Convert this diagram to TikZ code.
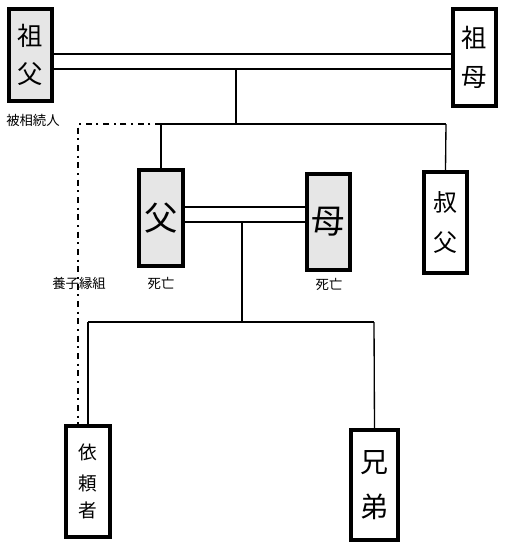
\documentclass[tikz,border=0pt]{standalone}
\usepackage{fontspec}
\setmainfont{Noto Sans CJK JP}
\definecolor{boxgray}{HTML}{E6E6E6}
\tikzset{
  person/.style={draw, line width=3pt, inner sep=0pt, align=center},
  dead/.style={person, fill=boxgray},
  link/.style={line width=1pt},
  adopt/.style={line width=1.5pt, dash pattern=on 4.5pt off 3.5pt on 1.5pt off 3.5pt},
  note/.style={font=\fontsize{10pt}{12pt}\selectfont, inner sep=0pt}
}
\begin{document}
\begin{tikzpicture}[x=0.75pt,y=-0.75pt]
\useasboundingbox (0,0) rectangle (507,553);
% persons
\node[dead, minimum width=32.25pt, minimum height=69pt, font=\fontsize{19pt}{19pt}\selectfont] (gf) at (30.5,55) {祖\\[9pt]父};
\node[person, minimum width=32.25pt, minimum height=72.75pt, font=\fontsize{19pt}{19pt}\selectfont] (gm) at (474.5,57.5) {祖\\[10pt]母};
\node[dead, minimum width=33pt, minimum height=72pt, font=\fontsize{25pt}{25pt}\selectfont] (fa) at (161,218) {父};
\node[dead, minimum width=32.25pt, minimum height=72pt, font=\fontsize{25pt}{25pt}\selectfont] (mo) at (328.5,222) {母};
\node[person, minimum width=32.25pt, minimum height=75.75pt, font=\fontsize{18pt}{18pt}\selectfont] (un) at (445.5,222.5) {叔\\[12pt]父};
\node[person, minimum width=33pt, minimum height=83.25pt, font=\fontsize{14pt}{14pt}\selectfont] (cl) at (88,481.5) {依\\[9pt]頼\\[6pt]者};
\node[person, minimum width=35.25pt, minimum height=82.5pt, font=\fontsize{21pt}{21pt}\selectfont] (br) at (374.5,485) {兄\\[13pt]弟};
% notes
\node[note] (n1) at (33,120) {被相続人};
\node[note] (n2) at (161,283) {死亡};
\node[note] (n3) at (329,284) {死亡};
\node[note] (n4) at (79,283) {養子縁組};
% helper coordinates
\coordinate (gpA) at (0,54);
\coordinate (gpB) at (0,69);
\coordinate (gpJ) at (236,69);
\coordinate (sib) at (236,124);
\coordinate (sibL) at (161,124);
\coordinate (sibR) at (446,124);
\coordinate (pA) at (0,207);
\coordinate (pB) at (0,222);
\coordinate (pJ) at (242,222);
\coordinate (kid) at (242,322);
\coordinate (kidL) at (88,322);
\coordinate (kidR) at (374,322);
\coordinate (adL) at (78,124);
% grandparents marriage
\draw[link] (gf.east |- gpA) -- (gm.west |- gpA);
\draw[link] (gf.east |- gpB) -- (gm.west |- gpB);
\draw[link] (gpJ) -- (sib);
\draw[link] (sibL) -- (sibR);
\draw[link] (sibL) -- (fa.north);
\draw[link] (sibR) -- (un.north);
% parents marriage
\draw[link] (fa.east |- pA) -- (mo.west |- pA);
\draw[link] (fa.east |- pB) -- (mo.west |- pB);
\draw[link] (pJ) -- (kid);
\draw[link] (kidL) -- (kidR);
\draw[link] (kidL) -- (cl.north);
\draw[link] (kidR) -- (br.north);
% adoption
\draw[adopt] (sibL) -- (adL) -- (adL |- cl.north);
\end{tikzpicture}
\end{document}
